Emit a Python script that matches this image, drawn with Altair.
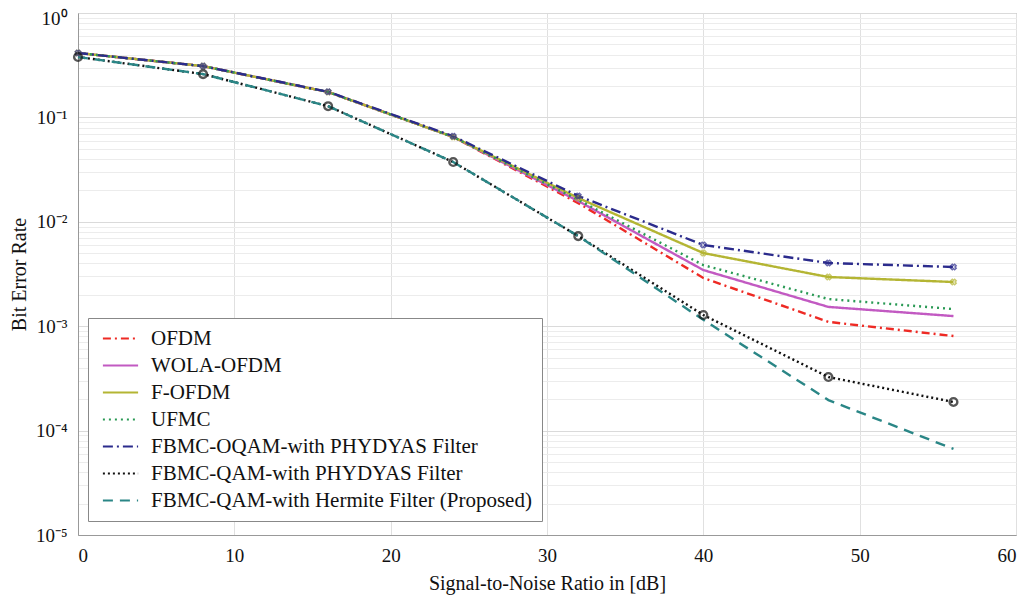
import altair as alt
import pandas as pd

snr = [0, 8, 16, 24, 32, 40, 48, 56]

ofdm = [0.414, 0.31, 0.175, 0.065, 0.0151, 0.0029, 0.00110, 0.000805]
wola = [0.414, 0.31, 0.175, 0.065, 0.0158, 0.00345, 0.00153, 0.00125]
fofdm = [0.414, 0.31, 0.175, 0.065, 0.0169, 0.00502, 0.00296, 0.00265]
ufmc = [0.414, 0.31, 0.175, 0.065, 0.0162, 0.00385, 0.00182, 0.00146]
oqam = [0.414, 0.31, 0.176, 0.066, 0.0177, 0.0060, 0.00403, 0.00369]
qam_phydyas = [0.379, 0.26, 0.128, 0.0374, 0.0073, 0.00128, 0.000326, 0.000188]
qam_hermite = [0.379, 0.26, 0.128, 0.0374, 0.0073, 0.00115, 0.000196, 0.0000667]

names = [
    "OFDM",
    "WOLA-OFDM",
    "F-OFDM",
    "UFMC",
    "FBMC-OQAM-with PHYDYAS Filter",
    "FBMC-QAM-with PHYDYAS Filter",
    "FBMC-QAM-with Hermite Filter (Proposed)",
]
series = [ofdm, wola, fofdm, ufmc, oqam, qam_phydyas, qam_hermite]
colors = ["#ee2a24", "#c25ac2", "#b4b533", "#2a9a55", "#2b2b8c", "#111111", "#2a8686"]
dashes = [[8, 4, 2, 4], [1, 0], [1, 0], [2, 4], [10, 4, 2, 4], [2, 3], [10, 7]]

rows = []
for n, s in zip(names, series):
    for x, v in zip(snr, s):
        rows.append({"series": n, "snr": x, "ber": v})
df = pd.DataFrame(rows)

y_ticks = []
for e in range(-5, 1):
    for m in range(1, 10):
        v = m * 10.0 ** e
        if v <= 1.0000001:
            y_ticks.append(float(f"{v:.6g}"))

sup = {0: "10⁰", -1: "10⁻¹", -2: "10⁻²", -3: "10⁻³", -4: "10⁻⁴", -5: "10⁻⁵"}
expr = "''"
for e, lab in sup.items():
    expr = f"abs(datum.value - {10.0 ** e:.6g}) < {10.0 ** e * 1e-3:.3g} ? '{lab}' : " + "(" + expr + ")"

major_test = "abs(log(datum.value)/LN10 - round(log(datum.value)/LN10)) < 0.001"

FONT = "Liberation Serif"

x_enc = alt.X(
    "snr:Q",
    scale=alt.Scale(domain=[0, 60], nice=False),
    axis=alt.Axis(
        title="Signal-to-Noise Ratio in [dB]",
        values=[0, 10, 20, 30, 40, 50, 60],
        grid=True,
        gridColor="#e0e0e0",
        ticks=False,
        labelPadding=11,
        titlePadding=8,
        domainColor="#999999",
    ),
)
y_enc = alt.Y(
    "ber:Q",
    scale=alt.Scale(type="log", domain=[1e-5, 1], nice=False),
    axis=alt.Axis(
        title="Bit Error Rate",
        values=y_ticks,
        labelExpr=expr,
        labelOverlap=False,
        labelFlush=False,
        labelOffset={"condition": {"test": "datum.value > 0.5", "value": 5}, "value": 0},
        grid=True,
        gridColor={"condition": {"test": major_test, "value": "#dadada"}, "value": "#ececec"},
        ticks=False,
        labelPadding=11,
        titlePadding=6,
        domainColor="#999999",
    ),
)

color = alt.Color(
    "series:N",
    scale=alt.Scale(domain=names, range=colors),
    legend=alt.Legend(
        title=None,
        orient="none",
        legendX=10,
        legendY=305,
        symbolType="M-2.2,0H2.2",
        symbolSize=256,
        symbolStrokeWidth=2,
        symbolOffset=12,
        labelFont=FONT,
        labelFontSize=21,
        labelColor="#111111",
        labelLimit=600,
        rowPadding=5,
        padding=10,
        fillColor="white",
        strokeColor="#888888",
        cornerRadius=0,
        labelOffset=20,
    ),
)
dash = alt.StrokeDash(
    "series:N",
    scale=alt.Scale(domain=names, range=dashes),
    legend=None,
)

lines = alt.Chart(df).mark_line(strokeWidth=2.4).encode(
    x=x_enc, y=y_enc, color=color, strokeDash=dash, order="snr:Q"
)

cross_df = df[df["series"].isin(["F-OFDM", "FBMC-OQAM-with PHYDYAS Filter"])]
crosses = alt.Chart(cross_df).mark_point(
    shape="cross", angle=45, size=30, filled=False, strokeWidth=1.5
).encode(
    x="snr:Q",
    y="ber:Q",
    color=alt.Color("series:N", scale=alt.Scale(domain=names, range=colors), legend=None),
)

circ_df = df[df["series"] == "FBMC-QAM-with PHYDYAS Filter"]
circles = alt.Chart(circ_df).mark_point(
    shape="circle", size=60, filled=False, strokeWidth=2.4, color="#111111"
).encode(x="snr:Q", y="ber:Q")

chart = (
    alt.layer(lines, crosses, circles)
    .properties(
        width=938,
        height=522,
        background="white",
        autosize=alt.AutoSizeParams(type="none"),
        padding={"left": 70, "top": 5, "right": 4, "bottom": 62},
    )
    .configure_view(stroke="#999999", strokeWidth=1)
    .configure_axis(
        labelFont=FONT,
        titleFont=FONT,
        labelFontSize=19,
        titleFontSize=20,
        titleFontWeight="normal",
        labelColor="#111111",
        titleColor="#111111",
    )
)

chart.save("out.html", embed_options={"renderer": "svg", "actions": False})
